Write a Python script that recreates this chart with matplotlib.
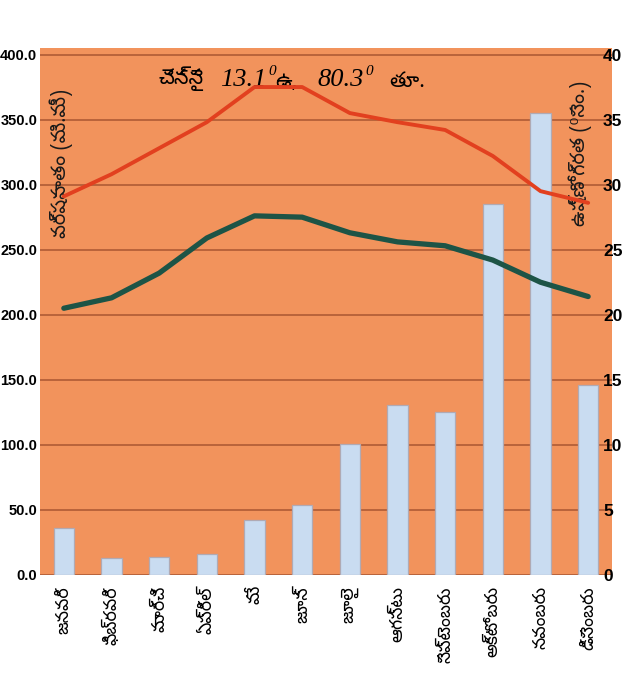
import matplotlib
matplotlib.use("Agg")
import matplotlib.pyplot as plt
from matplotlib import font_manager as fm
from matplotlib.ft2font import FT2Font

months = ["జనవరి", "ఫిబ్రవరి", "మార్చి", "ఏప్రిల్", "మే", "జూన్",
          "జూలై", "ఆగస్టు", "సెప్టెంబరు", "అక్టోబరు", "నవంబరు", "డిసెంబరు"]
rainfall = [36, 13, 14, 16, 42, 54, 101, 131, 125, 285, 355, 146]
temp_max = [29.1, 30.8, 32.8, 34.8, 37.5, 37.5, 35.5, 34.8, 34.2, 32.2, 29.5, 28.6]
temp_min = [20.5, 21.3, 23.2, 25.9, 27.6, 27.5, 26.3, 25.6, 25.3, 24.2, 22.5, 21.4]
left_ticks = [0, 50, 100, 150, 200, 250, 300, 350, 400]
right_ticks = [0, 5, 10, 15, 20, 25, 30, 35, 40]
title_parts = ["చెన్నై", "13.1", "0", "ఉ,", "80.3", "0", "తూ."]
ylabel_left = "వర్షపాతం (మి.మీ)"
ylabel_right = "ఉష్ణోగ్రత (⁰సెం.)"


def find_font(ch):
    best = None
    for f in fm.fontManager.ttflist:
        try:
            cm = FT2Font(f.fname).get_charmap()
        except Exception:
            continue
        if ord(ch) in cm:
            if best is None or ("Sans" in f.name and "Sans" not in best):
                best = f.name
    return best

tel = find_font("జ") or "DejaVu Sans"
TEL = [tel, "DejaVu Sans"]
num_font = ["Liberation Sans Narrow", "Liberation Sans", "DejaVu Sans"]

fig = plt.figure(figsize=(6.35, 6.75), dpi=100)
ax = fig.add_axes([40 / 635, 100 / 675, 572 / 635, 527 / 675])
ax.set_facecolor("#f2935c")
x = list(range(len(months)))

ax.set_ylim(0, 405)
ax.set_xlim(-0.5, len(months) - 0.5)
for v in left_ticks:
    ax.axhline(v, color="#b9633b", lw=1.4, zorder=1)

ax.bar(x, rainfall, width=0.42, color="#c9dcf1", edgecolor="#b0aab4",
       linewidth=0.9, zorder=2)

ax2 = ax.twinx()
ax2.set_ylim(0, 40.5)
ax2.plot(x, temp_max, color="#e2401f", lw=2.8, zorder=3, solid_capstyle="round")
ax2.plot(x, temp_min, color="#1d5446", lw=3.8, zorder=3, solid_capstyle="round")

for a in (ax, ax2):
    for s in a.spines.values():
        s.set_visible(False)

ax.set_yticks(left_ticks)
ax.set_yticklabels([f"{v:.1f}" for v in left_ticks], fontfamily=num_font,
                   fontweight="bold", fontsize=10.5)
ax.tick_params(axis="y", length=0, pad=2)
ax2.set_yticks(right_ticks)
ax2.set_yticklabels([str(v) for v in right_ticks], fontfamily=num_font,
                    fontweight="bold", fontsize=12.5)
ax2.tick_params(axis="y", length=0, pad=-6.5)

ax.set_xticks(x)
ax.set_xticklabels(months, rotation=90, fontfamily=TEL, fontsize=12.5, va="top")
ax.tick_params(axis="x", length=0, pad=8)

ax.text(0.037, 0.78, ylabel_left, rotation=90, transform=ax.transAxes,
        ha="center", va="center", fontfamily=TEL, fontsize=14, color="#1a1a1a",
        zorder=5)
ax.text(0.944, 0.80, ylabel_right, rotation=90, transform=ax.transAxes,
        ha="center", va="center", fontfamily=TEL, fontsize=14, color="#1a1a1a",
        zorder=5)

# title assembled from pieces
serif = ["Liberation Serif", "DejaVu Serif"]
t = ax.text(0.207, 0.932, title_parts[0], transform=ax.transAxes,
            fontfamily=TEL, fontsize=15, va="baseline", ha="left", zorder=5)
specs = [(title_parts[1], serif, "italic", 19, 12, 0),
         (title_parts[2], serif, "italic", 11, 1, 9),
         (title_parts[3], TEL, "normal", 15, 0, -9),
         (title_parts[4], serif, "italic", 19, 14, 0),
         (title_parts[5], serif, "italic", 11, 1, 9),
         (title_parts[6], TEL, "normal", 15, 12, -9)]
prev = t
for txt, fam, sty, fs, dx, dy in specs:
    prev = ax.annotate(txt, xy=(1, 0), xycoords=prev, xytext=(dx, dy),
                       textcoords="offset points", fontfamily=fam, fontstyle=sty,
                       fontsize=fs, va="bottom", ha="left", zorder=5,
                       annotation_clip=False)

fig.savefig("out.png", dpi=100, facecolor="white")
